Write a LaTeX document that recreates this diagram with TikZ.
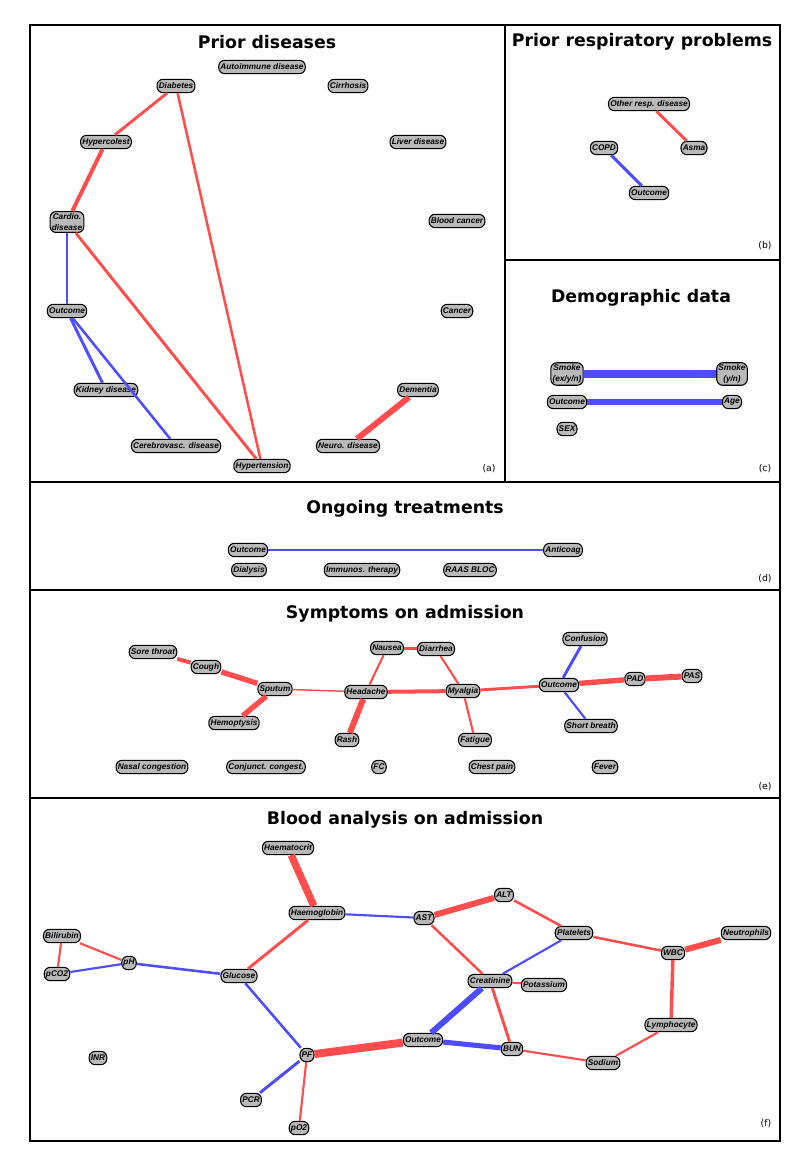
\documentclass[tikz,border=0pt]{standalone}
\usepackage{fontspec}
\newfontfamily\titlefont{DejaVu Sans}
\newfontfamily\varfont{Liberation Sans}
\definecolor{posred}{RGB}{255,77,77}
\definecolor{negblue}{RGB}{77,77,255}
\tikzset{
  varbox/.style={draw, fill=gray!55, rounded corners=4.5pt, line width=0.8pt, inner sep=1.3pt,
    minimum height=10pt, align=center, font=\varfont\bfseries\itshape\fontsize{6.2}{8.5}\selectfont},
  paneltitle/.style={font=\titlefont\bfseries\fontsize{13}{16}\selectfont},
  paneltag/.style={font=\titlefont\fontsize{7}{8}\selectfont},
  redline/.style={draw=posred, line width=#1},
  blueline/.style={draw=negblue, line width=#1},
  redline/.default=2pt,
  blueline/.default=2pt
}
\begin{document}
\begin{tikzpicture}[x=0.75pt,y=-0.75pt]
\useasboundingbox (0,0) rectangle (799,1155);

% frames
\draw[line width=1.5pt] (30,25) rectangle (780,1141);
\draw[line width=1.5pt] (505,25) -- (505,482);
\draw[line width=1.5pt] (505,260) -- (780,260);
\draw[line width=1.5pt] (30,482) -- (780,482);
\draw[line width=1.5pt] (30,590) -- (780,590);
\draw[line width=1.5pt] (30,798) -- (780,798);

% (a) prior diseases
\node[paneltitle] (ta) at (267,42) {Prior diseases};
\node[varbox] (aAuto) at (262,67) {Autoimmune disease};
\node[varbox] (aDiab) at (176,86) {Diabetes};
\node[varbox] (aCirr) at (348,86) {Cirrhosis};
\node[varbox] (aChol) at (106,142) {Hypercolest};
\node[varbox] (aLiver) at (418,142) {Liver disease};
\node[varbox] (aCard) at (67,222) {Cardio.\\disease};
\node[varbox] (aBlood) at (457,221) {Blood cancer};
\node[varbox] (aOut) at (67,311) {Outcome};
\node[varbox] (aCanc) at (457,311) {Cancer};
\node[varbox] (aKid) at (106,390) {Kidney disease};
\node[varbox] (aDem) at (418,390) {Dementia};
\node[varbox] (aCereb) at (176,446) {Cerebrovasc. disease};
\node[varbox] (aNeuro) at (348,446) {Neuro. disease};
\node[varbox] (aHyp) at (262,466) {Hypertension};
\node[paneltag] (la) at (489,469) {(a)};

\draw[redline=2.2pt] (aDiab) -- (aChol);
\draw[redline=3pt] (aChol) -- (aCard);
\draw[redline=1.9pt] (aDiab) -- (aHyp);
\draw[redline=2.2pt] (aCard) -- (aHyp);
\draw[blueline=2.2pt] (aCard) -- (aOut);
\draw[blueline=2.2pt] (aOut) -- (aKid);
\draw[blueline=1.9pt] (aOut) -- (aCereb);
\draw[redline=4.5pt] (aDem) -- (aNeuro);

% (b) prior respiratory problems
\node[paneltitle] (tb) at (642,42) {Prior respiratory problems};
\node[varbox] (bOther) at (649,104) {Other resp. disease};
\node[varbox] (bCopd) at (604,148) {COPD};
\node[varbox] (bAsma) at (694,148) {Asma};
\node[varbox] (bOut) at (649,193) {Outcome};
\node[paneltag] (lb) at (765,246) {(b)};

\draw[redline=2.2pt] (bOther) -- (bAsma);
\draw[blueline=2.2pt] (bCopd) -- (bOut);

% (c) demographic data
\node[paneltitle] (tc) at (641,298) {Demographic data};
\node[varbox] (cSmk3) at (567,374) {Smoke\\(ex/y/n)};
\node[varbox] (cSmk2) at (732,374) {Smoke\\(y/n)};
\node[varbox] (cOut) at (567,402) {Outcome};
\node[varbox] (cAge) at (732,402) {Age};
\node[varbox] (cSex) at (567,429) {SEX};
\node[paneltag] (lc) at (765,469) {(c)};

\draw[blueline=6pt] (cSmk3) -- (cSmk2);
\draw[blueline=4.8pt] (cOut) -- (cAge);

% (d) ongoing treatments
\node[paneltitle] (td) at (405,509) {Ongoing treatments};
\node[varbox] (dOut) at (248,550) {Outcome};
\node[varbox] (dAnti) at (563,550) {Anticoag};
\node[varbox] (dDial) at (249,570) {Dialysis};
\node[varbox] (dImm) at (362,570) {Immunos. therapy};
\node[varbox] (dRaas) at (470,570) {RAAS BLOC};
\node[paneltag] (ld) at (765,579) {(d)};

\draw[blueline=1.6pt] (dOut) -- (dAnti);

% (e) symptoms on admission
\node[paneltitle] (te) at (405,614) {Symptoms on admission};
\node[varbox] (eSore) at (153,652) {Sore throat};
\node[varbox] (eCough) at (206,667) {Cough};
\node[varbox] (eSput) at (275,689) {Sputum};
\node[varbox] (eHemo) at (234,723) {Hemoptysis};
\node[varbox] (eNaus) at (387,648) {Nausea};
\node[varbox] (eDiar) at (436,649) {Diarrhea};
\node[varbox] (eHead) at (366,692) {Headache};
\node[varbox] (eMyal) at (463,691) {Myalgia};
\node[varbox] (eRash) at (347,740) {Rash};
\node[varbox] (eFati) at (475,740) {Fatigue};
\node[varbox] (eOut) at (559,685) {Outcome};
\node[varbox] (eConf) at (585,639) {Confusion};
\node[varbox] (ePad) at (635,679) {PAD};
\node[varbox] (ePas) at (692,676) {PAS};
\node[varbox] (eShort) at (591,726) {Short breath};
\node[varbox] (eNasal) at (152,767) {Nasal congestion};
\node[varbox] (eConj) at (266,767) {Conjunct. congest.};
\node[varbox] (eFc) at (379,767) {FC};
\node[varbox] (eChest) at (492,767) {Chest pain};
\node[varbox] (eFever) at (605,767) {Fever};
\node[paneltag] (le) at (765,787) {(e)};

\draw[redline=3pt] (eSore) -- (eCough);
\draw[redline=4pt] (eCough) -- (eSput);
\draw[redline=4pt] (eSput) -- (eHemo);
\draw[redline=1.1pt] (eSput) -- (eHead);
\draw[redline=1.6pt] (eHead) -- (eNaus);
\draw[redline=4.5pt] (eHead) -- (eRash);
\draw[redline=3pt] (eHead) -- (eMyal);
\draw[redline=2.2pt] (eNaus) -- (eDiar);
\draw[redline=1.6pt] (eDiar) -- (eMyal);
\draw[redline=1.6pt] (eMyal) -- (eFati);
\draw[redline=2.2pt] (eMyal) -- (eOut);
\draw[blueline=2.2pt] (eOut) -- (eConf);
\draw[blueline=1.6pt] (eOut) -- (eShort);
\draw[redline=4pt] (eOut) -- (ePad);
\draw[redline=4.5pt] (ePad) -- (ePas);

% (f) blood analysis on admission
\node[paneltitle] (tf) at (405,820) {Blood analysis on admission};
\node[varbox] (fHct) at (288,848) {Haematocrit};
\node[varbox] (fHgb) at (317,913) {Haemoglobin};
\node[varbox] (fBili) at (62,936) {Bilirubin};
\node[varbox] (fPh) at (129,963) {pH};
\node[varbox] (fPco) at (57,974) {pCO2};
\node[varbox] (fGluc) at (239,976) {Glucose};
\node[varbox] (fInr) at (98,1058) {INR};
\node[varbox] (fPf) at (307,1055) {PF};
\node[varbox] (fPcr) at (251,1100) {PCR};
\node[varbox] (fPo) at (299,1128) {pO2};
\node[varbox] (fOut) at (423,1040) {Outcome};
\node[varbox] (fAst) at (424,918) {AST};
\node[varbox] (fAlt) at (504,895) {ALT};
\node[varbox] (fPlat) at (574,933) {Platelets};
\node[varbox] (fWbc) at (673,953) {WBC};
\node[varbox] (fNeut) at (746,933) {Neutrophils};
\node[varbox] (fCrea) at (490,981) {Creatinine};
\node[varbox] (fPot) at (544,985) {Potassium};
\node[varbox] (fBun) at (512,1049) {BUN};
\node[varbox] (fSod) at (603,1063) {Sodium};
\node[varbox] (fLym) at (671,1025) {Lymphocyte};
\node[paneltag] (lf) at (766,1124) {(f)};

\draw[redline=5.5pt] (fHct) -- (fHgb);
\draw[blueline=1.6pt] (fHgb) -- (fAst);
\draw[redline=2.2pt] (fHgb) -- (fGluc);
\draw[redline=1.6pt] (fBili) -- (fPh);
\draw[redline=1.6pt] (fBili) -- (fPco);
\draw[blueline=1.6pt] (fPco) -- (fPh);
\draw[blueline=1.9pt] (fPh) -- (fGluc);
\draw[blueline=1.9pt] (fGluc) -- (fPf);
\draw[redline=6pt] (fPf) -- (fOut);
\draw[blueline=2.2pt] (fPf) -- (fPcr);
\draw[redline=1.6pt] (fPf) -- (fPo);
\draw[redline=4.5pt] (fAst) -- (fAlt);
\draw[redline=1.9pt] (fAst) -- (fCrea);
\draw[redline=1.9pt] (fAlt) -- (fPlat);
\draw[blueline=1.6pt] (fPlat) -- (fCrea);
\draw[redline=1.9pt] (fPlat) -- (fWbc);
\draw[redline=4.5pt] (fWbc) -- (fNeut);
\draw[redline=2.6pt] (fWbc) -- (fLym);
\draw[redline=1.6pt] (fCrea) -- (fPot);
\draw[blueline=4.5pt] (fCrea) -- (fOut);
\draw[redline=2.2pt] (fCrea) -- (fBun);
\draw[blueline=3.8pt] (fOut) -- (fBun);
\draw[redline=1.6pt] (fBun) -- (fSod);
\draw[redline=1.6pt] (fSod) -- (fLym);
\end{tikzpicture}
\end{document}
